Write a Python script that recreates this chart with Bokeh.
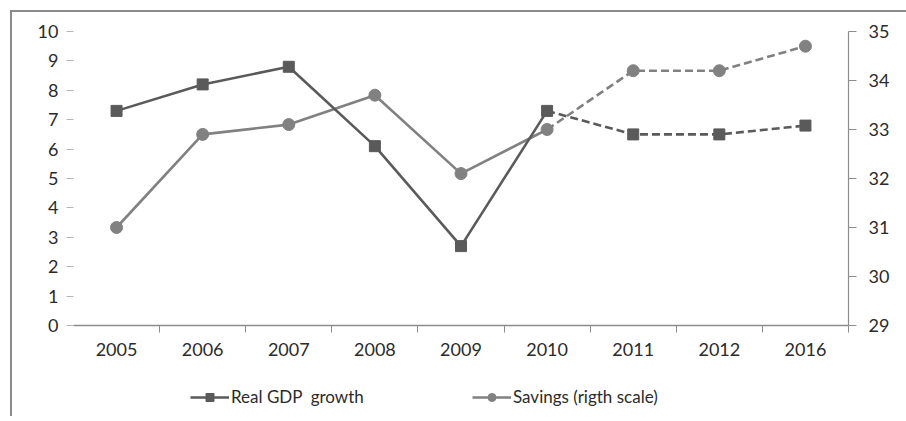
from bokeh.plotting import figure
from bokeh.layouts import column
from bokeh.models import Range1d, LinearAxis, FixedTicker, Legend, LegendItem
from bokeh.embed import file_html
from bokeh.resources import INLINE

# ---- data ----
years = ["2005", "2006", "2007", "2008", "2009", "2010", "2011", "2012", "2016"]
gdp_growth = [7.3, 8.2, 8.8, 6.1, 2.7, 7.3, 6.5, 6.5, 6.8]
savings = [31.0, 32.9, 33.1, 33.7, 32.1, 33.0, 34.2, 34.2, 34.7]
left_ticks = [0, 1, 2, 3, 4, 5, 6, 7, 8, 9, 10]
right_ticks = [29, 30, 31, 32, 33, 34, 35]
last_actual = years.index("2010")

# category positions (centre of each slot) and slot boundaries
xpos = [i + 0.5 for i in range(len(years))]
bounds = [i + 1 for i in range(len(years))]

GDP_COL = "#5a5a5a"
SAV_COL = "#818181"
AXIS_COL = "#8c8c8c"
TXT_COL = "#2b2b2b"
FONT = "Lato"
LW = 2.6

p = figure(frame_width=775, frame_height=294,
           min_border_left=61, min_border_right=58,
           min_border_top=19, min_border_bottom=0,
           x_range=Range1d(0, len(years)), y_range=Range1d(0, 10),
           output_backend="svg", toolbar_location=None)
p.extra_y_ranges = {"right": Range1d(29, 35)}
p.outline_line_color = None
p.xgrid.visible = False
p.ygrid.visible = False
p.background_fill_color = "white"
p.border_fill_color = "white"

# x axis
xa = p.xaxis[0]
xa.ticker = FixedTicker(ticks=xpos, minor_ticks=bounds)
xa.major_label_overrides = {xv: y for xv, y in zip(xpos, years)}
xa.major_tick_line_color = None
xa.minor_tick_line_color = AXIS_COL
xa.minor_tick_out = 7
xa.minor_tick_in = 0
xa.axis_line_color = AXIS_COL
xa.axis_line_width = 1.5
xa.major_label_standoff = 10
xa.major_label_text_font = FONT
xa.major_label_text_font_size = "18px"
xa.major_label_text_color = TXT_COL

# left y axis
ya = p.yaxis[0]
ya.ticker = FixedTicker(ticks=left_ticks)
ya.axis_line_color = None
ya.major_tick_line_color = "#b5b5b5"
ya.major_tick_out = 7
ya.major_tick_in = 0
ya.minor_tick_line_color = None
ya.major_label_standoff = 8
ya.major_label_text_font = FONT
ya.major_label_text_font_size = "18px"
ya.major_label_text_color = TXT_COL

# right y axis
ra = LinearAxis(y_range_name="right", ticker=FixedTicker(ticks=right_ticks))
ra.axis_line_color = AXIS_COL
ra.axis_line_width = 1.2
ra.major_tick_line_color = AXIS_COL
ra.major_tick_out = 8
ra.major_tick_in = 0
ra.minor_tick_line_color = None
ra.major_label_standoff = 12
ra.major_label_text_font = FONT
ra.major_label_text_font_size = "18px"
ra.major_label_text_color = TXT_COL
p.add_layout(ra, "right")

n = last_actual + 1
# savings (right scale)
p.line(xpos[:n], savings[:n], y_range_name="right", line_color=SAV_COL, line_width=LW)
p.line(xpos[last_actual:], savings[last_actual:], y_range_name="right",
       line_color=SAV_COL, line_width=LW, line_dash="8 4")
p.scatter(xpos, savings, y_range_name="right", marker="circle", size=12,
          fill_color=SAV_COL, line_color=SAV_COL)

# real GDP growth
p.line(xpos[:n], gdp_growth[:n], line_color=GDP_COL, line_width=LW)
p.line(xpos[last_actual:], gdp_growth[last_actual:], line_color=GDP_COL,
       line_width=LW, line_dash="8 4")
p.scatter(xpos, gdp_growth, marker="square", size=11,
          fill_color=GDP_COL, line_color=GDP_COL)

# ---- legend strip below the chart ----
# (series are re-plotted here only as legend keys; their values fall outside
#  this strip's 0..1 range, so only the legend glyphs are visible)
lg = figure(frame_width=894, frame_height=58, min_border=0,
            x_range=Range1d(0, 1), y_range=Range1d(0, 1),
            output_backend="svg", toolbar_location=None)
lg.axis.visible = False
lg.xgrid.visible = False
lg.ygrid.visible = False
lg.outline_line_color = None
lg.background_fill_color = "white"
lg.border_fill_color = "white"

gdp_l = lg.line(xpos, gdp_growth, line_color=GDP_COL, line_width=LW)
gdp_m = lg.scatter(xpos, gdp_growth, marker="square", size=9,
                   fill_color=GDP_COL, line_color=GDP_COL)
sav_l = lg.line(xpos, savings, line_color=SAV_COL, line_width=LW)
sav_m = lg.scatter(xpos, savings, marker="circle", size=9,
                   fill_color=SAV_COL, line_color=SAV_COL)


def add_legend(label, rends, loc):
    leg = Legend(items=[LegendItem(label=label, renderers=rends)], location=loc,
                 orientation="horizontal", padding=0, margin=0, spacing=0,
                 glyph_width=39, glyph_height=20, label_standoff=2,
                 border_line_color=None, background_fill_alpha=0,
                 label_text_font=FONT, label_text_font_size="17px",
                 label_text_color=TXT_COL)
    lg.add_layout(leg, "center")


add_legend("Real GDP  growth", [gdp_l, gdp_m], (178, 9))
add_legend("Savings (rigth scale)", [sav_l, sav_m], (460, 9))

layout = column(p, lg, spacing=0,
                styles={"border-left": f"2px solid {AXIS_COL}",
                        "border-top": f"2px solid {AXIS_COL}",
                        "margin-left": "10px", "margin-top": "10px"})

open("out.html", "w").write(file_html(layout, INLINE))
